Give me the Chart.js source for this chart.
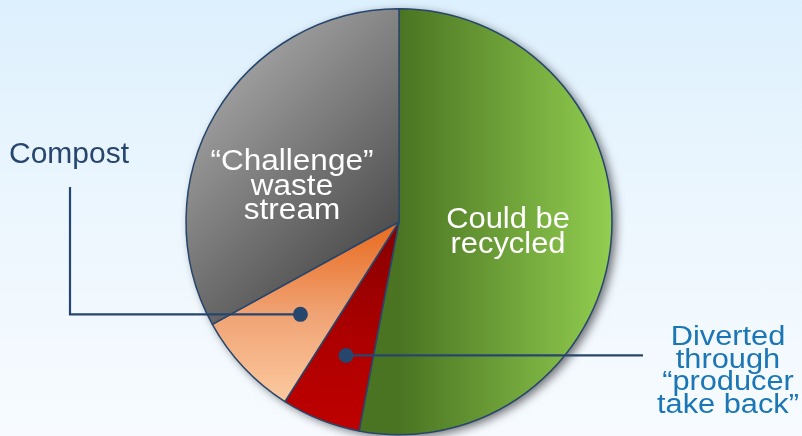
<!DOCTYPE html>
<html>
<head>
<meta charset="utf-8">
<script src="https://cdn.jsdelivr.net/npm/chart.js@4.4.1/dist/chart.umd.min.js"></script>
<style>
  html, body { margin: 0; padding: 0; }
  body {
    width: 802px; height: 436px; overflow: hidden;
    background: linear-gradient(to bottom, #ddf0fd 0%, #eef7fe 55%, #f7fbff 100%);
  }
  #wrap { position: relative; width: 802px; height: 436px; }
</style>
</head>
<body>
<div id="wrap"><canvas id="pie"></canvas></div>
<script>
const labels = ['Could be recycled', 'Diverted through “producer take back”', 'Compost', '“Challenge” waste stream'];
const shares = [53, 6, 8, 33];
//--------------------------//
const navy = '#27466d';

// gradient makers, one per slice
function sliceFill(ctx) {
    const chart = ctx.chart;
    const area = chart.chartArea;
    const fallback = ['#6a9e35', '#b00000', '#f0a070', '#777777'][ctx.dataIndex];
    if (!area) return fallback;
    const c = chart.ctx;
    const cx = (area.left + area.right) / 2;
    const cy = (area.top + area.bottom) / 2;
    const r = Math.min(area.right - area.left, area.bottom - area.top) / 2;
    let g;
    if (ctx.dataIndex === 0) {
        g = c.createLinearGradient(cx, 0, cx + r, 0);
        g.addColorStop(0, '#4a7422');
        g.addColorStop(1, '#92ce50');
    } else if (ctx.dataIndex === 1) {
        g = c.createLinearGradient(0, cy, 0, cy + r);
        g.addColorStop(0, '#850000');
        g.addColorStop(0.55, '#ad0000');
        g.addColorStop(1, '#c00000');
    } else if (ctx.dataIndex === 2) {
        g = c.createLinearGradient(0, cy, 0, cy + r * 0.85);
        g.addColorStop(0, '#e8691c');
        g.addColorStop(0.5, '#f0a273');
        g.addColorStop(1, '#fbcaa0');
    } else {
        g = c.createLinearGradient(cx - r * 0.8, cy - r * 0.8, cx, cy);
        g.addColorStop(0, '#a6a6a6');
        g.addColorStop(1, '#4f4f4f');
    }
    return g;
}

// soft drop shadow under the whole pie
const shadowPlugin = {
    id: 'pieShadow',
    beforeDatasetsDraw(chart) {
        const arc = chart.getDatasetMeta(0).data[0];
        if (!arc) return;
        const c = chart.ctx;
        c.save();
        c.shadowColor = 'rgba(0,0,0,0.55)';
        c.shadowBlur = 10;
        c.shadowOffsetX = 4;
        c.shadowOffsetY = 3;
        c.fillStyle = '#777';
        c.beginPath();
        c.arc(arc.x, arc.y, arc.outerRadius, 0, Math.PI * 2);
        c.fill();
        c.restore();
    }
};

function pointInSlice(chart, i, frac) {
    const arc = chart.getDatasetMeta(0).data[i];
    const mid = (arc.startAngle + arc.endAngle) / 2;
    return {
        x: arc.x + Math.cos(mid) * arc.outerRadius * frac,
        y: arc.y + Math.sin(mid) * arc.outerRadius * frac
    };
}

// stacked text lines, slightly stretched sideways like the original
function lines(c, arr, x, y, step, sx) {
    arr.forEach((t, k) => {
        c.save();
        c.translate(x, y + k * step);
        c.scale(sx, 1);
        c.fillText(t, 0, 0);
        c.restore();
    });
}

const labelPlugin = {
    id: 'calloutLabels',
    afterDatasetsDraw(chart) {
        const c = chart.ctx;
        c.save();
        // callout lines + dots
        c.strokeStyle = navy;
        c.fillStyle = navy;
        c.lineWidth = 2.2;

        const pc = pointInSlice(chart, 2, 0.635);
        c.beginPath();
        c.moveTo(70, 187);
        c.lineTo(70, pc.y);
        c.lineTo(pc.x, pc.y);
        c.stroke();
        c.beginPath();
        c.arc(pc.x, pc.y, 7.5, 0, Math.PI * 2);
        c.fill();

        const pd = pointInSlice(chart, 1, 0.675);
        c.beginPath();
        c.moveTo(pd.x, pd.y);
        c.lineTo(643, pd.y);
        c.stroke();
        c.beginPath();
        c.arc(pd.x, pd.y, 7.5, 0, Math.PI * 2);
        c.fill();

        // texts
        c.textAlign = 'center';
        c.textBaseline = 'alphabetic';
        c.font = '30px "Liberation Sans", Arial, sans-serif';
        c.fillStyle = '#ffffff';
        lines(c, ['“Challenge”', 'waste', 'stream'], 292, 170, 24.5, 1.05);
        lines(c, ['Could be', 'recycled'], 508, 228, 25, 1.03);

        c.font = '27px "Liberation Sans", Arial, sans-serif';
        c.fillStyle = '#1a76b4';
        lines(c, ['Diverted', 'through', '“producer', 'take back”'], 728, 345, 22.5, 1.14);

        c.textAlign = 'left';
        c.font = '30px "Liberation Sans", Arial, sans-serif';
        c.fillStyle = navy;
        c.fillText('Compost', 9, 163);
        c.restore();
    }
};

//---------------------------//
const config = {
    type: 'pie',
    data: {
        labels: labels,
        datasets: [{
            data: shares,
            backgroundColor: sliceFill,
            borderColor: navy,
            borderWidth: 1.5,
            hoverOffset: 0
        }]
    },
    options: {
        responsive: false,
        animation: false,
        events: [],
        layout: {
            padding: { left: 0, right: 4, top: 8, bottom: 0.5 }
        },
        plugins: {
            legend: { display: false },
            tooltip: { enabled: false }
        }
    },
    plugins: [shadowPlugin, labelPlugin]
};

const cv = document.getElementById('pie');
cv.width = 802;
cv.height = 436;
cv.style.width = '802px';
cv.style.height = '436px';
var myChart = new Chart(cv, config);
</script>
</body>
</html>
